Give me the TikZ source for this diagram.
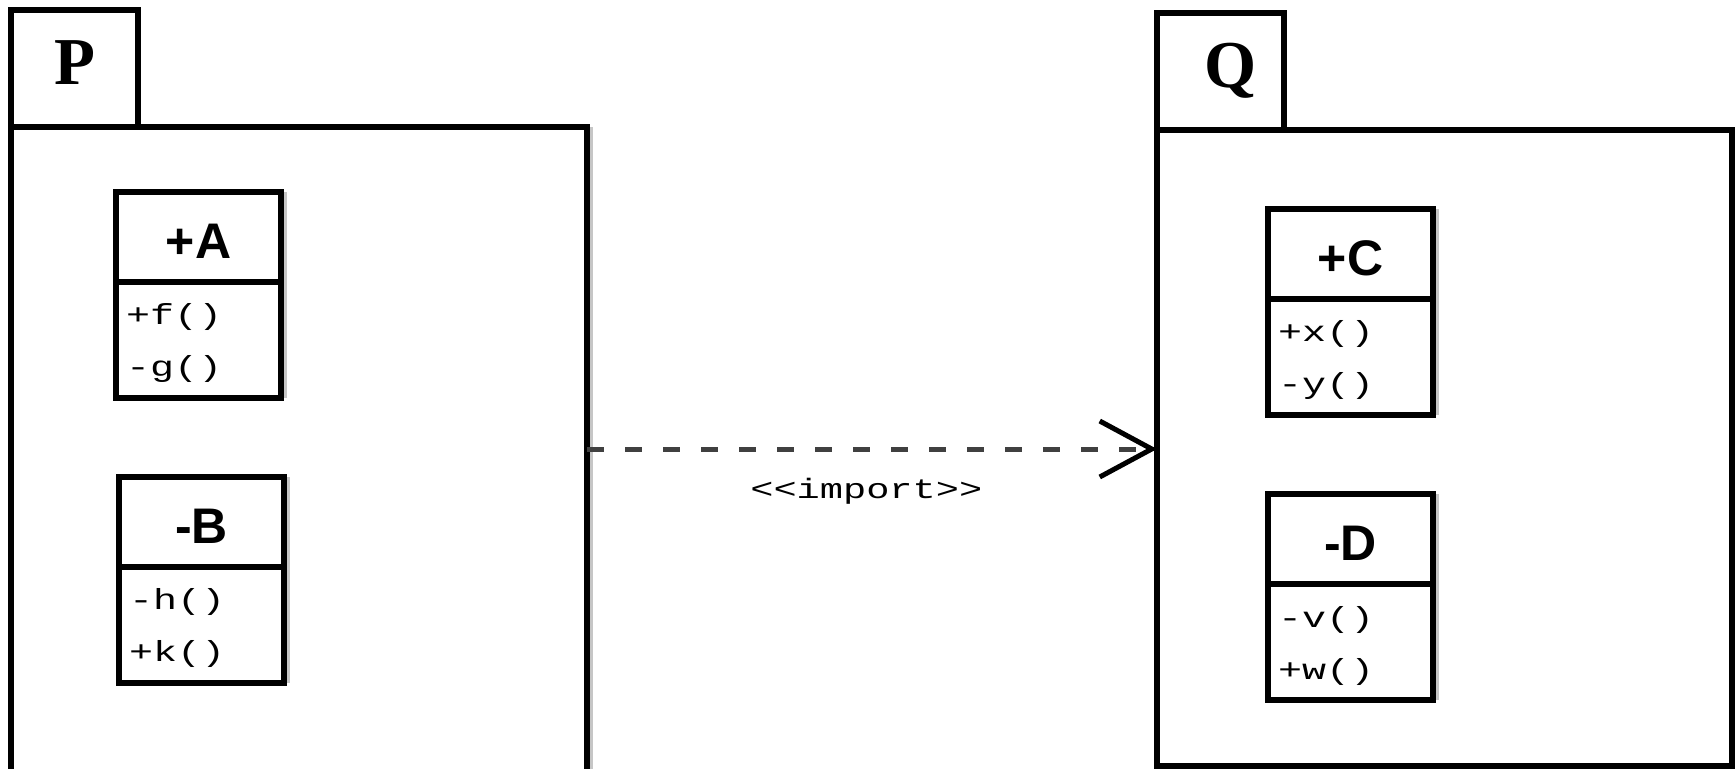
\documentclass[tikz,border=0pt]{standalone}
\usepackage{fontspec}
\setmainfont{Liberation Serif}
\setsansfont{Liberation Sans}
\setmonofont{Liberation Mono}[FakeStretch=1.38]
\usetikzlibrary{arrows.meta}
\begin{document}
\begin{tikzpicture}[x=1pt,y=-1pt,
  frame/.style={draw, line width=5.5pt, inner sep=0pt, outer sep=0pt, anchor=north west},
  pkgtab/.style={frame, minimum width=127pt, minimum height=117pt,
    text height=45pt, text depth=14pt, font=\fontsize{67}{67}\selectfont\bfseries},
  pkgbody/.style={frame},
  clshead/.style={frame, minimum width=165pt, minimum height=90pt,
    text height=42pt, text depth=0pt,
    font=\sffamily\bfseries\fontsize{50}{50}\selectfont},
  clsops/.style={frame, minimum width=165pt, minimum height=116pt,
    text width=145pt, inner xsep=10pt, align=left,
    font=\ttfamily\fontsize{29}{52}\selectfont,
    execute at begin node={\rule{0pt}{28pt}}},
  edgeshade/.style={draw=gray!45, line width=3pt},
  dep/.style={line width=5pt, draw=black!75, dash pattern=on 17pt off 21pt,
    -{Straight Barb[length=52pt, width=56pt, line width=5pt, color=black]}},
  deplabel/.style={font=\ttfamily\fontsize{28}{28}\selectfont, anchor=base, inner sep=0pt},
]
\useasboundingbox (0,0) rectangle (1736,768);
\clip (0,0) rectangle (1736,768);

% package P
\node[pkgtab] (Ptab) at (11,10) {P};
\node[pkgbody, minimum width=576pt, minimum height=700pt] (Pbody) at (11,127) {};
\draw[edgeshade] ([xshift=4pt]Pbody.north east) -- ([xshift=4pt]Pbody.south east);

% package Q
\node[pkgtab] (Qtab) at (1157,13) {\hspace*{20pt}Q};
\node[pkgbody, minimum width=575pt, minimum height=636pt] (Qbody) at (1157,130) {};

% classes of P
\node[clshead] (Ahead) at (116,192) {+A};
\node[clsops] (Aops) at (Ahead.south west) {+f()\\-g()};
\node[clshead] (Bhead) at (119,477) {-B};
\node[clsops] (Bops) at (Bhead.south west) {-h()\\+k()};

% classes of Q
\node[clshead] (Chead) at (1268,209) {+C};
\node[clsops] (Cops) at (Chead.south west) {+x()\\-y()};
\node[clshead] (Dhead) at (1268,494) {-D};
\node[clsops] (Dops) at (Dhead.south west) {-v()\\+w()};

% soft right edges of the class boxes
\foreach \c in {A,B,C,D}
  \draw[edgeshade] ([xshift=4pt]\c head.north east) -- ([xshift=4pt]\c ops.south east);

% import dependency
\coordinate (deplevel) at (0,449);
\draw[dep] (Pbody.east |- deplevel) -- node[deplabel, pos=0.49, yshift=-49pt] {<<import>>} (Qbody.west |- deplevel);
\end{tikzpicture}
\end{document}
